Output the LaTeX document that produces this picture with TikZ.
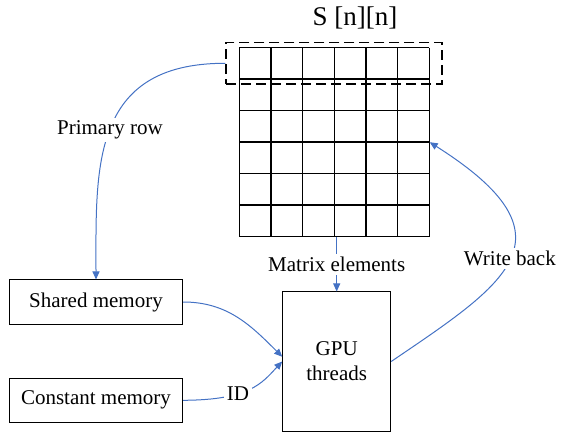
\documentclass[tikz,border=0pt]{standalone}
\usepackage{fontspec}
\setmainfont{Liberation Serif}
\usetikzlibrary{positioning,arrows.meta}

\definecolor{flowblue}{HTML}{4472C4}

\begin{document}
\begin{tikzpicture}[x=0.5pt, y=-0.5pt, >={Triangle[length=4pt,width=3.5pt]},
  font=\fontsize{10.5}{12.6}\selectfont,
  memory/.style={draw, line width=0.5pt, minimum width=86.7pt, minimum height=22pt, inner sep=0pt},
  flow/.style={->, draw=flowblue, line width=0.5pt},
  tag/.style={fill=white, inner sep=1.5pt}]
  \useasboundingbox (0,0) rectangle (561,432);

  % matrix S[n][n]
  \node[font=\fontsize{13.5}{16}\selectfont] (title) at (355,18) {S [n][n]};
  \node[minimum width=95pt, minimum height=94.5pt, inner sep=0pt] (mat) at (334.3,142.2) {};
  \foreach \i in {0,...,6} {
    \draw[line width=0.8pt] (239.3+\i*31.67,47.7) -- (239.3+\i*31.67,236.7);
    \draw[line width=0.8pt] (239.3,47.7+\i*31.5) -- (429.3,47.7+\i*31.5);
  }
  \node[draw, dash pattern=on 5pt off 2.5pt, line width=0.6pt, minimum width=108pt,
    minimum height=20.65pt, inner sep=0pt] (rowbox) at (334,63.3) {};

  % memories and threads
  \node[memory] (shared) at (96,302) {Shared memory};
  \node[memory, below=26.65pt of shared] (const) {Constant memory};
  \node[draw, line width=0.5pt, minimum width=54pt, minimum height=69.5pt, inner sep=0pt,
    align=center] (gpu) at (336.7,361.5) {GPU\\threads};

  % data flow
  \draw[flow] (rowbox.west) .. controls (90,63) and (96,169) .. node[tag]{Primary row} (shared.north);
  \draw[flow] (gpu.north |- mat.south) -- node[tag]{Matrix elements} (gpu.north);
  \draw[flow] (shared.east) to[out=0, in=135] (gpu.175);
  \draw[flow] (const.east) .. controls (250,400) and (262,383) .. node[tag, pos=0.37]{ID} (gpu.west);
  \draw[flow] (gpu.east) .. controls (506,283.5) and (580,237.5) .. node[tag]{Write back} (mat.east);
\end{tikzpicture}
\end{document}
